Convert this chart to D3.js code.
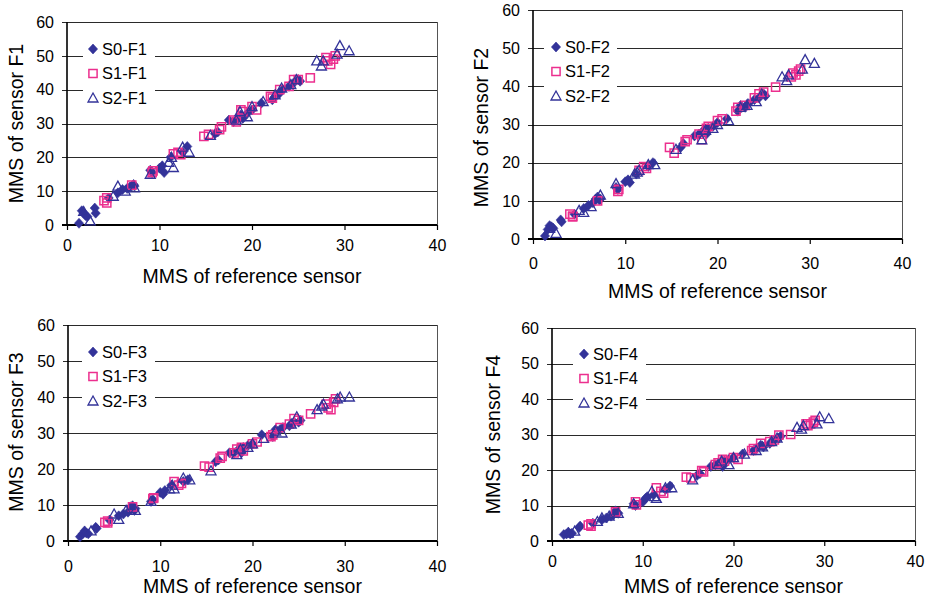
<!DOCTYPE html>
<html>
<head>
<meta charset="utf-8">
<script src="https://cdn.jsdelivr.net/npm/d3@7/dist/d3.min.js"></script>
<style>
  html, body { margin: 0; padding: 0; background: #fff; }
  svg { display: block; font-family: "Liberation Sans", Arial, sans-serif; }
</style>
</head>
<body>
<svg id="chart" width="931" height="600"></svg>
<script>
// ---------- DATA ----------
const xTicks = [0, 10, 20, 30, 40];
const yTicks = [0, 10, 20, 30, 40, 50, 60];
const xTitle = "MMS of reference sensor";
const sensors = ["F1", "F2", "F3", "F4"];
const seriesNames = ["S0", "S1", "S2"];

// reference-sensor MMS (x) for each series
const refS0 = [1.3,1.6,1.8,2.0,2.2,3.0,3.1,4.5,5.5,6.0,6.5,6.8,7.0,7.2,7.3,9.0,9.2,10.0,10.3,10.5,11.2,12.5,13.0,16.0,16.3,17.5,18.0,18.5,18.8,19.0,19.5,20.0,21.0,22.2,22.5,23.0,23.3,24.0,24.5,25.0,25.2];
const refS1 = [4.0,4.3,4.3,7.0,9.2,9.3,11.5,12.0,12.3,14.8,15.3,16.5,16.7,18.0,18.3,18.8,19.0,20.0,20.5,22.0,22.2,23.0,24.0,24.5,25.0,26.3,28.0,28.2,28.5,29.0,28.8];
const refS2 = [1.8,2.5,5.0,5.5,6.3,7.3,9.0,11.0,11.3,11.5,12.5,13.2,15.5,18.3,18.7,19.5,20.0,21.2,22.5,23.2,24.2,24.8,27.0,27.5,27.7,29.2,29.5,30.5];

// sensor F1
const f1S0 = [0.5,4.2,3.5,2.8,2.5,5.0,3.5,8.0,9.5,10.5,10.8,11.2,11.5,12.0,11.5,16.2,15.5,16.8,17.5,15.5,20.0,21.5,23.2,27.0,27.5,31.0,30.5,31.5,32.5,31.5,33.0,34.0,36.0,37.0,38.0,39.0,40.0,41.0,42.0,43.0,42.5];
const f1S1 = [7.2,8.0,6.5,11.8,15.5,16.0,21.0,21.5,20.8,26.2,26.8,28.2,29.0,31.0,30.5,34.0,33.5,35.0,34.0,38.0,37.5,40.0,41.0,43.0,43.0,43.5,49.5,48.5,47.5,50.0,49.0];
const f1S2 = [4.0,1.2,8.5,11.5,10.0,11.0,15.0,18.5,20.0,17.0,23.0,21.5,26.5,31.0,33.5,32.0,35.0,36.5,38.5,40.5,41.5,43.0,48.5,47.0,48.5,50.5,53.0,51.5];
// sensor F2
const f2S0 = [0.8,2.5,3.5,3.2,2.8,5.0,4.5,6.5,8.0,8.8,9.5,10.5,11.0,10.2,10.5,13.5,13.0,15.0,15.5,14.8,17.0,19.0,20.0,24.0,25.0,27.0,27.5,28.5,27.5,29.0,29.5,30.5,31.5,33.5,35.0,34.5,35.5,36.5,37.0,38.0,37.5];
const f2S1 = [6.5,5.8,6.0,10.0,12.5,13.0,18.0,19.0,18.5,24.0,22.5,25.5,26.0,27.5,26.0,29.0,29.5,31.0,31.5,33.5,34.5,35.0,37.0,38.0,38.5,39.8,42.5,43.5,43.0,44.5,44.0];
const f2S2 = [2.8,1.5,7.5,7.0,8.5,11.5,14.5,17.0,17.5,18.0,19.5,19.5,23.5,26.0,28.5,29.0,30.0,31.0,34.5,35.0,36.0,38.0,42.5,41.5,43.0,44.5,47.0,46.0];
// sensor F3
const f3S0 = [1.2,2.0,2.8,2.2,2.0,3.8,3.5,5.8,7.0,7.5,8.0,9.5,9.8,8.5,9.0,11.0,11.5,13.5,13.0,14.0,15.5,16.5,17.0,22.0,22.5,24.5,24.5,25.5,24.5,26.0,26.5,27.0,29.5,29.0,31.0,31.0,31.5,32.0,33.0,33.0,33.5];
const f3S1 = [5.2,5.5,5.0,9.5,11.8,12.0,16.5,15.5,16.0,20.8,20.5,23.0,23.5,24.5,25.5,26.0,25.0,27.0,27.5,29.0,29.5,31.5,32.5,34.0,33.5,35.3,38.0,37.0,36.5,39.5,38.5];
const f3S2 = [2.5,2.8,7.5,6.0,8.5,8.5,11.0,14.5,15.5,14.5,17.5,17.0,19.5,24.0,25.5,26.0,27.0,28.5,30.5,30.0,32.5,34.5,36.5,37.5,38.0,39.5,40.0,40.0];
// sensor F4
const f4S0 = [1.8,2.0,2.5,2.0,2.2,3.8,4.2,5.0,6.0,6.5,7.0,7.5,8.5,8.0,7.8,10.5,10.0,11.0,12.0,12.5,13.0,14.5,15.5,18.5,19.0,21.0,21.5,22.0,21.0,22.5,23.0,23.5,24.5,25.5,26.0,27.0,26.5,27.5,28.5,29.0,29.5];
const f4S1 = [4.5,4.8,4.2,8.2,11.0,10.2,15.0,14.0,13.5,18.0,17.8,19.8,19.5,21.5,22.0,23.0,22.5,23.5,23.0,25.5,26.0,27.5,28.0,28.5,29.8,30.0,33.0,32.5,33.0,34.0,33.5];
const f4S2 = [2.2,2.8,5.5,6.5,7.0,7.8,10.5,14.0,12.5,12.0,15.0,15.0,17.2,21.5,22.5,21.5,23.5,24.5,25.5,26.5,28.0,29.0,32.0,31.5,32.5,33.0,35.0,34.5];

const sensorValues = [[f1S0,f1S1,f1S2],[f2S0,f2S1,f2S2],[f3S0,f3S1,f3S2],[f4S0,f4S1,f4S2]];
const refValues = [refS0, refS1, refS2];

// ---------- LAYOUT ----------
const NAVY = "#333399", PINK = "#EC2F8E";
const panels = [
  {left:67,  right:437, top:22,  bottom:225, xLabY:251, xTitleY:283, yTitleX:22.5, yTitleY:123.5, legX:93,  legY:49,  boxL:83,  boxR:155},
  {left:533, right:902, top:10,  bottom:239, xLabY:269, xTitleY:298, yTitleX:487.5,yTitleY:127.5, legX:556, legY:47,  boxL:544, boxR:617},
  {left:68,  right:437, top:325, bottom:541, xLabY:572, xTitleY:593, yTitleX:22.5, yTitleY:432,   legX:93,  legY:352, boxL:82,  boxR:155},
  {left:552, right:915, top:328, bottom:541, xLabY:567, xTitleY:593, yTitleX:500,  yTitleY:434.5, legX:584, legY:354, boxL:573, boxR:646}
];
const legStep = 24.5;

const svg = d3.select("#chart");

const diamondPath = "M0,-5L4.6,0L0,5L-4.6,0Z";
const squarePath = "M-4.1,-4.1H4.1V4.1H-4.1Z";
const trianglePath = "M0,-5L5,4H-5Z";

function drawMarker(g, k, x, y) {
  if (k === 0) {
    g.append("path").attr("d", diamondPath).attr("transform", `translate(${x},${y})`)
      .attr("fill", NAVY).attr("stroke", NAVY).attr("stroke-width", 0.6);
  } else if (k === 1) {
    g.append("path").attr("d", squarePath).attr("transform", `translate(${x},${y})`)
      .attr("fill", "none").attr("stroke", PINK).attr("stroke-width", 1.5);
  } else {
    g.append("path").attr("d", trianglePath).attr("transform", `translate(${x},${y})`)
      .attr("fill", "none").attr("stroke", NAVY).attr("stroke-width", 1.3);
  }
}

panels.forEach((p, i) => {
  const g = svg.append("g");
  const x = d3.scaleLinear().domain([0, 40]).range([p.left, p.right]);
  const y = d3.scaleLinear().domain([0, 60]).range([p.bottom, p.top]);

  // gridlines (with outward ticks on the left)
  g.selectAll("line.grid").data(yTicks.filter(t => t > 0)).join("line")
    .attr("x1", p.left - 5).attr("x2", p.right)
    .attr("y1", d => Math.round(y(d)) + 0.5).attr("y2", d => Math.round(y(d)) + 0.5)
    .attr("stroke", "#2a2a2a").attr("stroke-width", 1.1);

  // right border
  g.append("line").attr("x1", p.right + 0.5).attr("x2", p.right + 0.5)
    .attr("y1", y(60)).attr("y2", y(0)).attr("stroke", "#555").attr("stroke-width", 1);

  // left axis
  g.append("line").attr("x1", p.left).attr("x2", p.left)
    .attr("y1", y(60)).attr("y2", y(0)).attr("stroke", "#000").attr("stroke-width", 1.6);
  // bottom axis
  const xAxis = d3.axisBottom(x).tickValues(xTicks).tickSize(5).tickFormat(d3.format("d"));
  const xa = g.append("g").attr("transform", `translate(0,${y(0)})`).call(xAxis);
  xa.select(".domain").attr("stroke", "#000").attr("stroke-width", 2).attr("d", `M${p.left - 5},0H${p.right}`);
  xa.selectAll(".tick line").attr("stroke", "#000").attr("stroke-width", 1.2);
  xa.selectAll(".tick text").attr("font-size", 16).attr("font-family", "Liberation Sans, Arial, sans-serif")
    .attr("fill", "#000").attr("dy", null).attr("y", p.xLabY - y(0));

  // y tick labels
  g.selectAll("text.ylab").data(yTicks).join("text")
    .attr("x", p.left - 13).attr("y", d => y(d)).attr("dy", "0.36em")
    .attr("text-anchor", "end").attr("font-size", 16).attr("fill", "#000").text(d => d);

  // legend background
  g.append("rect").attr("x", p.boxL).attr("y", p.legY - 13)
    .attr("width", p.boxR - p.boxL).attr("height", legStep * 2 + 26).attr("fill", "#fff");

  // data
  for (let k = 0; k < 3; k++) {
    const xs = refValues[k], ys = sensorValues[i][k];
    const mg = g.append("g");
    xs.forEach((xv, j) => drawMarker(mg, k, x(xv), y(ys[j])));
  }

  // legend
  seriesNames.forEach((s, k) => {
    const ly = p.legY + k * legStep;
    drawMarker(g, k, p.legX, ly);
    g.append("text").attr("x", p.legX + 9).attr("y", ly).attr("dy", "0.36em")
      .attr("font-size", 16.5).attr("fill", "#000").text(`${s}-${sensors[i]}`);
  });

  // titles
  g.append("text").attr("x", (p.left + p.right) / 2).attr("y", p.xTitleY)
    .attr("text-anchor", "middle").attr("font-size", 19.5).attr("fill", "#000").text(xTitle);
  g.append("text").attr("transform", `translate(${p.yTitleX},${p.yTitleY}) rotate(-90)`)
    .attr("text-anchor", "middle").attr("font-size", 19.5).attr("fill", "#000")
    .text(`MMS of sensor ${sensors[i]}`);
});
</script>
</body>
</html>
